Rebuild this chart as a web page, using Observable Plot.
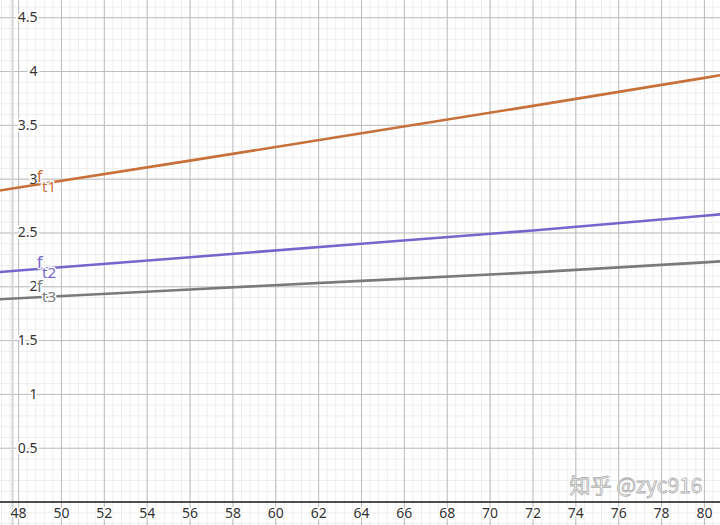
<!DOCTYPE html>
<html>
<head>
<meta charset="utf-8">
<script src="https://cdn.jsdelivr.net/npm/d3@7"></script>
<script src="https://cdn.jsdelivr.net/npm/@observablehq/plot@0.6"></script>
<style>
  html, body { margin: 0; padding: 0; background: #fff; }
  #chart svg { display: block; }
</style>
</head>
<body>
<div id="chart"></div>
<script>
// ---- data ----
const tValues = [47, 48, 56, 64, 72, 80, 81];
const ft1 = [2.891, 2.922, 3.172, 3.426, 3.681, 3.941, 3.974];
const ft2 = [2.136, 2.151, 2.275, 2.400, 2.523, 2.660, 2.677];
const ft3 = [1.883, 1.893, 1.975, 2.055, 2.134, 2.227, 2.239];

const seriesNames = ["t1", "t2", "t3"];
const seriesColors = ["#c8703a", "#7366cc", "#7a7a7a"];
const labelX = [48.98, 48.98, 48.98];
const labelY = [3.02, 2.222, 1.998];

const xTicks = [48, 50, 52, 54, 56, 58, 60, 62, 64, 66, 68, 70, 72, 74, 76, 78, 80];
const yTicks = [0.5, 1, 1.5, 2, 2.5, 3, 3.5, 4, 4.5];
const panelEdge = [47.72];
const watermark = ["知乎 @zyc916"];

// ---- build tables ----
const lines = [];
[ft1, ft2, ft3].forEach((vals, i) => {
  vals.forEach((v, j) => lines.push({t: tValues[j], v, s: seriesNames[i]}));
});
const labels = seriesNames.map((s, i) => ({s, x: labelX[i], y: labelY[i], c: seriesColors[i]}));

const xDomain = [47.155, 80.75];
const yDomain = [-0.218, 4.66];
const xMinor = d3.range(47.2, 80.8, 0.4);
const yMinor = d3.range(-0.2, 4.7, 0.1).map(d => Math.round(d * 10) / 10);
const xMajor = d3.range(46, 82, 2);
const yMajor = d3.range(-0.5, 5, 0.5);

const font = "'Noto Sans', 'DejaVu Sans', sans-serif";

const chart = Plot.plot({
  width: 720,
  height: 525,
  margin: 0,
  style: {background: "#fff", fontFamily: font},
  x: {domain: xDomain, axis: null},
  y: {domain: yDomain, axis: null},
  marks: [
    Plot.ruleX(xMinor, {stroke: "#eeeeee", strokeWidth: 1}),
    Plot.ruleY(yMinor, {stroke: "#eeeeee", strokeWidth: 1}),
    Plot.ruleX(xMajor, {stroke: "#bdbdbd", strokeWidth: 1}),
    Plot.ruleY(yMajor, {stroke: "#bdbdbd", strokeWidth: 1}),
    Plot.ruleX(panelEdge, {stroke: "#d6d6d6", strokeWidth: 2}),
    Plot.ruleY([0], {stroke: "#222", strokeWidth: 1.5}),
    // y tick labels
    Plot.text(yTicks, {
      y: d => d, frameAnchor: "left", dx: 37, textAnchor: "end",
      text: d => String(d), fontSize: 14, fill: "#333",
      stroke: "white", strokeWidth: 4
    }),
    // x tick labels
    Plot.text(xTicks, {
      x: d => d, y: 0, dy: 11,
      text: d => String(d), fontSize: 14, fill: "#333",
      stroke: "white", strokeWidth: 3
    }),
    // curves
    Plot.line(lines, {
      x: "t", y: "v", z: "s",
      stroke: d => seriesColors[seriesNames.indexOf(d.s)],
      strokeWidth: 2.6, clip: true
    }),
    // labels f_t1 etc
    Plot.text(labels, {
      x: "x", y: "y", text: () => "f", fill: "c",
      fontSize: 17, stroke: "white", strokeWidth: 2.5
    }),
    Plot.text(labels, {
      x: "x", y: "y", dx: 9.5, dy: 10.5, text: "s", fill: "c",
      fontSize: 15, stroke: "white", strokeWidth: 3
    }),
    // watermark
    Plot.text(watermark, {
      frameAnchor: "bottom-right", textAnchor: "end", dx: -18, dy: -33,
      fontSize: 21, fontFamily: "'Noto Sans CJK SC', sans-serif",
      fill: "#f7f7f7", stroke: "#b0b0b0", strokeWidth: 0.8, paintOrder: "normal"
    })
  ]
});
document.getElementById("chart").append(chart);
</script>
</body>
</html>
